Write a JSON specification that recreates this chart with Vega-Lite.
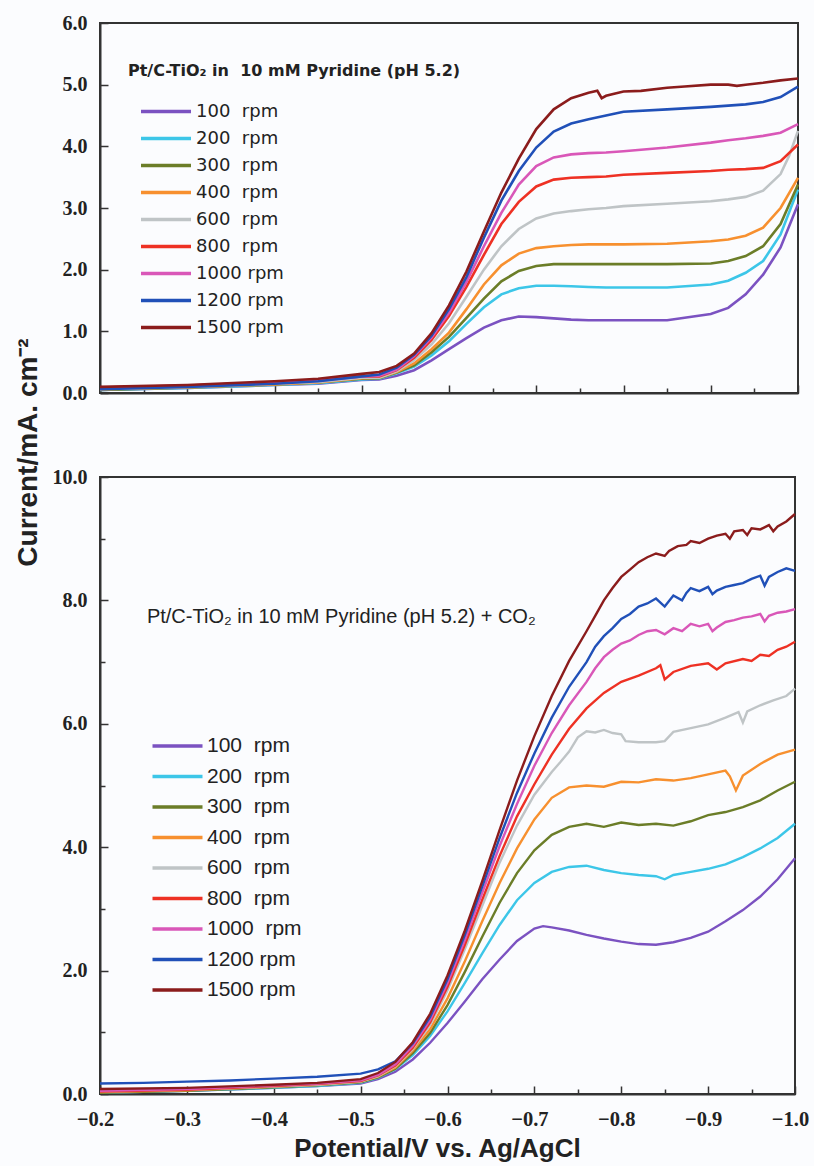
{
"$schema":"https://vega.github.io/schema/vega-lite/v6.json",
"background":"#fbfcfe",
"padding":{"left":12,"top":12,"right":4,"bottom":4},
"bounds":"flush",
"spacing":84,
"config":{
 "view":{"stroke":"#333333","strokeWidth":2},
 "axis":{"domainColor":"#333333","domainWidth":2,"tickColor":"#333333","tickWidth":1.5,"grid":false,
  "labelFont":"Liberation Serif","labelFontWeight":"bold","labelFontSize":20,"labelColor":"#222222",
  "labelFlush":false,"labelOverlap":false,"labelBound":false,
  "titleFont":"Liberation Sans","titleFontWeight":"bold","titleFontSize":26,"titleColor":"#222222"}
},
"resolve":{"scale":{"color":"independent"},"legend":{"color":"independent"}},
"datasets":{
"top":[
{"r":100,"v":-0.2,"i":0.05},{"r":100,"v":-0.3,"i":0.08},{"r":100,"v":-0.4,"i":0.13},{"r":100,"v":-0.45,"i":0.15},{"r":100,"v":-0.5,"i":0.21},{"r":100,"v":-0.52,"i":0.22},{"r":100,"v":-0.54,"i":0.28},{"r":100,"v":-0.56,"i":0.37},{"r":100,"v":-0.58,"i":0.53},{"r":100,"v":-0.6,"i":0.71},{"r":100,"v":-0.62,"i":0.89},{"r":100,"v":-0.64,"i":1.06},{"r":100,"v":-0.66,"i":1.18},{"r":100,"v":-0.68,"i":1.24},{"r":100,"v":-0.7,"i":1.23},{"r":100,"v":-0.72,"i":1.21},{"r":100,"v":-0.74,"i":1.19},{"r":100,"v":-0.76,"i":1.18},{"r":100,"v":-0.78,"i":1.18},{"r":100,"v":-0.8,"i":1.18},{"r":100,"v":-0.85,"i":1.18},{"r":100,"v":-0.9,"i":1.28},{"r":100,"v":-0.92,"i":1.38},{"r":100,"v":-0.94,"i":1.6},{"r":100,"v":-0.96,"i":1.92},{"r":100,"v":-0.98,"i":2.36},{"r":100,"v":-1.0,"i":3.06},
{"r":200,"v":-0.2,"i":0.05},{"r":200,"v":-0.3,"i":0.08},{"r":200,"v":-0.4,"i":0.13},{"r":200,"v":-0.45,"i":0.16},{"r":200,"v":-0.5,"i":0.22},{"r":200,"v":-0.52,"i":0.23},{"r":200,"v":-0.54,"i":0.32},{"r":200,"v":-0.56,"i":0.43},{"r":200,"v":-0.58,"i":0.61},{"r":200,"v":-0.6,"i":0.84},{"r":200,"v":-0.62,"i":1.12},{"r":200,"v":-0.64,"i":1.39},{"r":200,"v":-0.66,"i":1.6},{"r":200,"v":-0.68,"i":1.7},{"r":200,"v":-0.7,"i":1.74},{"r":200,"v":-0.72,"i":1.74},{"r":200,"v":-0.74,"i":1.73},{"r":200,"v":-0.76,"i":1.72},{"r":200,"v":-0.78,"i":1.71},{"r":200,"v":-0.8,"i":1.71},{"r":200,"v":-0.85,"i":1.71},{"r":200,"v":-0.9,"i":1.76},{"r":200,"v":-0.92,"i":1.82},{"r":200,"v":-0.94,"i":1.95},{"r":200,"v":-0.96,"i":2.14},{"r":200,"v":-0.98,"i":2.57},{"r":200,"v":-1.0,"i":3.3},
{"r":300,"v":-0.2,"i":0.05},{"r":300,"v":-0.3,"i":0.09},{"r":300,"v":-0.4,"i":0.14},{"r":300,"v":-0.45,"i":0.17},{"r":300,"v":-0.5,"i":0.23},{"r":300,"v":-0.52,"i":0.24},{"r":300,"v":-0.54,"i":0.33},{"r":300,"v":-0.56,"i":0.45},{"r":300,"v":-0.58,"i":0.66},{"r":300,"v":-0.6,"i":0.91},{"r":300,"v":-0.62,"i":1.22},{"r":300,"v":-0.64,"i":1.53},{"r":300,"v":-0.66,"i":1.81},{"r":300,"v":-0.68,"i":1.98},{"r":300,"v":-0.7,"i":2.06},{"r":300,"v":-0.72,"i":2.09},{"r":300,"v":-0.74,"i":2.09},{"r":300,"v":-0.76,"i":2.09},{"r":300,"v":-0.78,"i":2.09},{"r":300,"v":-0.8,"i":2.09},{"r":300,"v":-0.85,"i":2.09},{"r":300,"v":-0.9,"i":2.1},{"r":300,"v":-0.92,"i":2.14},{"r":300,"v":-0.94,"i":2.22},{"r":300,"v":-0.96,"i":2.38},{"r":300,"v":-0.98,"i":2.74},{"r":300,"v":-1.0,"i":3.38},
{"r":400,"v":-0.2,"i":0.06},{"r":400,"v":-0.3,"i":0.09},{"r":400,"v":-0.4,"i":0.14},{"r":400,"v":-0.45,"i":0.17},{"r":400,"v":-0.5,"i":0.24},{"r":400,"v":-0.52,"i":0.25},{"r":400,"v":-0.54,"i":0.34},{"r":400,"v":-0.56,"i":0.48},{"r":400,"v":-0.58,"i":0.71},{"r":400,"v":-0.6,"i":0.98},{"r":400,"v":-0.62,"i":1.36},{"r":400,"v":-0.64,"i":1.76},{"r":400,"v":-0.66,"i":2.07},{"r":400,"v":-0.68,"i":2.26},{"r":400,"v":-0.7,"i":2.35},{"r":400,"v":-0.72,"i":2.38},{"r":400,"v":-0.74,"i":2.4},{"r":400,"v":-0.76,"i":2.41},{"r":400,"v":-0.78,"i":2.41},{"r":400,"v":-0.8,"i":2.41},{"r":400,"v":-0.85,"i":2.42},{"r":400,"v":-0.9,"i":2.46},{"r":400,"v":-0.92,"i":2.49},{"r":400,"v":-0.94,"i":2.55},{"r":400,"v":-0.96,"i":2.68},{"r":400,"v":-0.98,"i":3.0},{"r":400,"v":-1.0,"i":3.49},
{"r":600,"v":-0.2,"i":0.06},{"r":600,"v":-0.3,"i":0.1},{"r":600,"v":-0.4,"i":0.15},{"r":600,"v":-0.45,"i":0.18},{"r":600,"v":-0.5,"i":0.25},{"r":600,"v":-0.52,"i":0.25},{"r":600,"v":-0.54,"i":0.35},{"r":600,"v":-0.56,"i":0.53},{"r":600,"v":-0.58,"i":0.79},{"r":600,"v":-0.6,"i":1.13},{"r":600,"v":-0.62,"i":1.56},{"r":600,"v":-0.64,"i":2.0},{"r":600,"v":-0.66,"i":2.38},{"r":600,"v":-0.68,"i":2.66},{"r":600,"v":-0.7,"i":2.83},{"r":600,"v":-0.72,"i":2.91},{"r":600,"v":-0.74,"i":2.95},{"r":600,"v":-0.76,"i":2.98},{"r":600,"v":-0.78,"i":3.0},{"r":600,"v":-0.8,"i":3.03},{"r":600,"v":-0.85,"i":3.07},{"r":600,"v":-0.9,"i":3.11},{"r":600,"v":-0.92,"i":3.14},{"r":600,"v":-0.94,"i":3.18},{"r":600,"v":-0.96,"i":3.28},{"r":600,"v":-0.98,"i":3.55},{"r":600,"v":-0.99,"i":3.85},{"r":600,"v":-1.0,"i":4.25},
{"r":800,"v":-0.2,"i":0.09},{"r":800,"v":-0.3,"i":0.12},{"r":800,"v":-0.4,"i":0.17},{"r":800,"v":-0.45,"i":0.21},{"r":800,"v":-0.5,"i":0.27},{"r":800,"v":-0.52,"i":0.27},{"r":800,"v":-0.54,"i":0.37},{"r":800,"v":-0.56,"i":0.57},{"r":800,"v":-0.58,"i":0.86},{"r":800,"v":-0.6,"i":1.25},{"r":800,"v":-0.62,"i":1.72},{"r":800,"v":-0.64,"i":2.24},{"r":800,"v":-0.66,"i":2.74},{"r":800,"v":-0.68,"i":3.1},{"r":800,"v":-0.7,"i":3.35},{"r":800,"v":-0.72,"i":3.46},{"r":800,"v":-0.74,"i":3.49},{"r":800,"v":-0.76,"i":3.5},{"r":800,"v":-0.78,"i":3.51},{"r":800,"v":-0.8,"i":3.54},{"r":800,"v":-0.85,"i":3.57},{"r":800,"v":-0.9,"i":3.6},{"r":800,"v":-0.92,"i":3.62},{"r":800,"v":-0.94,"i":3.63},{"r":800,"v":-0.96,"i":3.65},{"r":800,"v":-0.98,"i":3.76},{"r":800,"v":-1.0,"i":4.03},
{"r":1000,"v":-0.2,"i":0.08},{"r":1000,"v":-0.3,"i":0.11},{"r":1000,"v":-0.4,"i":0.16},{"r":1000,"v":-0.45,"i":0.2},{"r":1000,"v":-0.5,"i":0.27},{"r":1000,"v":-0.52,"i":0.28},{"r":1000,"v":-0.54,"i":0.38},{"r":1000,"v":-0.56,"i":0.6},{"r":1000,"v":-0.58,"i":0.9},{"r":1000,"v":-0.6,"i":1.3},{"r":1000,"v":-0.62,"i":1.8},{"r":1000,"v":-0.64,"i":2.38},{"r":1000,"v":-0.66,"i":2.92},{"r":1000,"v":-0.68,"i":3.38},{"r":1000,"v":-0.7,"i":3.68},{"r":1000,"v":-0.72,"i":3.82},{"r":1000,"v":-0.74,"i":3.87},{"r":1000,"v":-0.76,"i":3.89},{"r":1000,"v":-0.78,"i":3.9},{"r":1000,"v":-0.8,"i":3.92},{"r":1000,"v":-0.85,"i":3.98},{"r":1000,"v":-0.9,"i":4.06},{"r":1000,"v":-0.92,"i":4.1},{"r":1000,"v":-0.94,"i":4.13},{"r":1000,"v":-0.96,"i":4.17},{"r":1000,"v":-0.98,"i":4.22},{"r":1000,"v":-1.0,"i":4.36},
{"r":1200,"v":-0.2,"i":0.06},{"r":1200,"v":-0.3,"i":0.1},{"r":1200,"v":-0.4,"i":0.15},{"r":1200,"v":-0.45,"i":0.19},{"r":1200,"v":-0.5,"i":0.27},{"r":1200,"v":-0.52,"i":0.3},{"r":1200,"v":-0.54,"i":0.41},{"r":1200,"v":-0.56,"i":0.62},{"r":1200,"v":-0.58,"i":0.93},{"r":1200,"v":-0.6,"i":1.36},{"r":1200,"v":-0.62,"i":1.88},{"r":1200,"v":-0.64,"i":2.52},{"r":1200,"v":-0.66,"i":3.12},{"r":1200,"v":-0.68,"i":3.6},{"r":1200,"v":-0.7,"i":3.98},{"r":1200,"v":-0.72,"i":4.24},{"r":1200,"v":-0.74,"i":4.37},{"r":1200,"v":-0.76,"i":4.44},{"r":1200,"v":-0.78,"i":4.5},{"r":1200,"v":-0.8,"i":4.56},{"r":1200,"v":-0.85,"i":4.6},{"r":1200,"v":-0.9,"i":4.64},{"r":1200,"v":-0.92,"i":4.66},{"r":1200,"v":-0.94,"i":4.68},{"r":1200,"v":-0.96,"i":4.72},{"r":1200,"v":-0.98,"i":4.8},{"r":1200,"v":-1.0,"i":4.97},
{"r":1500,"v":-0.2,"i":0.1},{"r":1500,"v":-0.3,"i":0.13},{"r":1500,"v":-0.4,"i":0.19},{"r":1500,"v":-0.45,"i":0.23},{"r":1500,"v":-0.5,"i":0.31},{"r":1500,"v":-0.52,"i":0.34},{"r":1500,"v":-0.54,"i":0.44},{"r":1500,"v":-0.56,"i":0.64},{"r":1500,"v":-0.58,"i":0.97},{"r":1500,"v":-0.6,"i":1.42},{"r":1500,"v":-0.62,"i":1.97},{"r":1500,"v":-0.64,"i":2.62},{"r":1500,"v":-0.66,"i":3.25},{"r":1500,"v":-0.68,"i":3.8},{"r":1500,"v":-0.7,"i":4.28},{"r":1500,"v":-0.72,"i":4.6},{"r":1500,"v":-0.74,"i":4.78},{"r":1500,"v":-0.76,"i":4.87},{"r":1500,"v":-0.77,"i":4.9},{"r":1500,"v":-0.775,"i":4.78},{"r":1500,"v":-0.78,"i":4.82},{"r":1500,"v":-0.8,"i":4.89},{"r":1500,"v":-0.82,"i":4.9},{"r":1500,"v":-0.85,"i":4.95},{"r":1500,"v":-0.87,"i":4.97},{"r":1500,"v":-0.9,"i":5.0},{"r":1500,"v":-0.92,"i":5.0},{"r":1500,"v":-0.93,"i":4.98},{"r":1500,"v":-0.94,"i":5.0},{"r":1500,"v":-0.96,"i":5.03},{"r":1500,"v":-0.98,"i":5.07},{"r":1500,"v":-1.0,"i":5.1}
],
"bot":[
{"r":100,"v":-0.2,"i":0.02},{"r":100,"v":-0.3,"i":0.05},{"r":100,"v":-0.4,"i":0.1},{"r":100,"v":-0.45,"i":0.13},{"r":100,"v":-0.5,"i":0.17},{"r":100,"v":-0.52,"i":0.24},{"r":100,"v":-0.54,"i":0.36},{"r":100,"v":-0.56,"i":0.56},{"r":100,"v":-0.58,"i":0.83},{"r":100,"v":-0.6,"i":1.15},{"r":100,"v":-0.62,"i":1.5},{"r":100,"v":-0.64,"i":1.86},{"r":100,"v":-0.66,"i":2.18},{"r":100,"v":-0.68,"i":2.48},{"r":100,"v":-0.7,"i":2.68},{"r":100,"v":-0.71,"i":2.72},{"r":100,"v":-0.72,"i":2.7},{"r":100,"v":-0.74,"i":2.65},{"r":100,"v":-0.76,"i":2.58},{"r":100,"v":-0.78,"i":2.52},{"r":100,"v":-0.8,"i":2.47},{"r":100,"v":-0.82,"i":2.43},{"r":100,"v":-0.84,"i":2.42},{"r":100,"v":-0.86,"i":2.46},{"r":100,"v":-0.88,"i":2.53},{"r":100,"v":-0.9,"i":2.63},{"r":100,"v":-0.92,"i":2.8},{"r":100,"v":-0.94,"i":2.98},{"r":100,"v":-0.96,"i":3.2},{"r":100,"v":-0.98,"i":3.48},{"r":100,"v":-1.0,"i":3.82},
{"r":200,"v":-0.2,"i":0.02},{"r":200,"v":-0.3,"i":0.05},{"r":200,"v":-0.4,"i":0.1},{"r":200,"v":-0.45,"i":0.13},{"r":200,"v":-0.5,"i":0.18},{"r":200,"v":-0.52,"i":0.26},{"r":200,"v":-0.54,"i":0.4},{"r":200,"v":-0.56,"i":0.63},{"r":200,"v":-0.58,"i":0.94},{"r":200,"v":-0.6,"i":1.34},{"r":200,"v":-0.62,"i":1.8},{"r":200,"v":-0.64,"i":2.28},{"r":200,"v":-0.66,"i":2.74},{"r":200,"v":-0.68,"i":3.14},{"r":200,"v":-0.7,"i":3.42},{"r":200,"v":-0.72,"i":3.6},{"r":200,"v":-0.74,"i":3.68},{"r":200,"v":-0.76,"i":3.7},{"r":200,"v":-0.78,"i":3.63},{"r":200,"v":-0.8,"i":3.58},{"r":200,"v":-0.82,"i":3.55},{"r":200,"v":-0.84,"i":3.53},{"r":200,"v":-0.85,"i":3.48},{"r":200,"v":-0.86,"i":3.55},{"r":200,"v":-0.88,"i":3.6},{"r":200,"v":-0.9,"i":3.65},{"r":200,"v":-0.92,"i":3.72},{"r":200,"v":-0.94,"i":3.84},{"r":200,"v":-0.96,"i":3.98},{"r":200,"v":-0.98,"i":4.15},{"r":200,"v":-1.0,"i":4.38},
{"r":300,"v":-0.2,"i":0.02},{"r":300,"v":-0.3,"i":0.05},{"r":300,"v":-0.4,"i":0.11},{"r":300,"v":-0.45,"i":0.14},{"r":300,"v":-0.5,"i":0.19},{"r":300,"v":-0.52,"i":0.27},{"r":300,"v":-0.54,"i":0.41},{"r":300,"v":-0.56,"i":0.66},{"r":300,"v":-0.58,"i":0.99},{"r":300,"v":-0.6,"i":1.44},{"r":300,"v":-0.62,"i":1.98},{"r":300,"v":-0.64,"i":2.55},{"r":300,"v":-0.66,"i":3.1},{"r":300,"v":-0.68,"i":3.58},{"r":300,"v":-0.7,"i":3.95},{"r":300,"v":-0.72,"i":4.2},{"r":300,"v":-0.74,"i":4.33},{"r":300,"v":-0.76,"i":4.38},{"r":300,"v":-0.78,"i":4.33},{"r":300,"v":-0.8,"i":4.4},{"r":300,"v":-0.82,"i":4.36},{"r":300,"v":-0.84,"i":4.38},{"r":300,"v":-0.86,"i":4.35},{"r":300,"v":-0.88,"i":4.42},{"r":300,"v":-0.9,"i":4.52},{"r":300,"v":-0.92,"i":4.57},{"r":300,"v":-0.94,"i":4.65},{"r":300,"v":-0.96,"i":4.76},{"r":300,"v":-0.98,"i":4.92},{"r":300,"v":-1.0,"i":5.06},
{"r":400,"v":-0.2,"i":0.03},{"r":400,"v":-0.3,"i":0.06},{"r":400,"v":-0.4,"i":0.12},{"r":400,"v":-0.45,"i":0.15},{"r":400,"v":-0.5,"i":0.2},{"r":400,"v":-0.52,"i":0.28},{"r":400,"v":-0.54,"i":0.43},{"r":400,"v":-0.56,"i":0.7},{"r":400,"v":-0.58,"i":1.05},{"r":400,"v":-0.6,"i":1.55},{"r":400,"v":-0.62,"i":2.15},{"r":400,"v":-0.64,"i":2.8},{"r":400,"v":-0.66,"i":3.42},{"r":400,"v":-0.68,"i":3.98},{"r":400,"v":-0.7,"i":4.45},{"r":400,"v":-0.72,"i":4.8},{"r":400,"v":-0.74,"i":4.97},{"r":400,"v":-0.76,"i":5.0},{"r":400,"v":-0.78,"i":4.98},{"r":400,"v":-0.8,"i":5.06},{"r":400,"v":-0.82,"i":5.05},{"r":400,"v":-0.84,"i":5.1},{"r":400,"v":-0.86,"i":5.08},{"r":400,"v":-0.88,"i":5.12},{"r":400,"v":-0.9,"i":5.18},{"r":400,"v":-0.92,"i":5.24},{"r":400,"v":-0.925,"i":5.15},{"r":400,"v":-0.932,"i":4.92},{"r":400,"v":-0.94,"i":5.16},{"r":400,"v":-0.96,"i":5.35},{"r":400,"v":-0.98,"i":5.5},{"r":400,"v":-1.0,"i":5.58},
{"r":600,"v":-0.2,"i":0.04},{"r":600,"v":-0.3,"i":0.07},{"r":600,"v":-0.4,"i":0.12},{"r":600,"v":-0.45,"i":0.15},{"r":600,"v":-0.5,"i":0.2},{"r":600,"v":-0.52,"i":0.29},{"r":600,"v":-0.54,"i":0.45},{"r":600,"v":-0.56,"i":0.73},{"r":600,"v":-0.58,"i":1.12},{"r":600,"v":-0.6,"i":1.68},{"r":600,"v":-0.62,"i":2.35},{"r":600,"v":-0.64,"i":3.05},{"r":600,"v":-0.66,"i":3.75},{"r":600,"v":-0.68,"i":4.35},{"r":600,"v":-0.7,"i":4.85},{"r":600,"v":-0.72,"i":5.22},{"r":600,"v":-0.73,"i":5.38},{"r":600,"v":-0.74,"i":5.55},{"r":600,"v":-0.75,"i":5.78},{"r":600,"v":-0.76,"i":5.88},{"r":600,"v":-0.77,"i":5.86},{"r":600,"v":-0.78,"i":5.9},{"r":600,"v":-0.79,"i":5.85},{"r":600,"v":-0.8,"i":5.83},{"r":600,"v":-0.805,"i":5.72},{"r":600,"v":-0.82,"i":5.7},{"r":600,"v":-0.84,"i":5.7},{"r":600,"v":-0.85,"i":5.72},{"r":600,"v":-0.86,"i":5.87},{"r":600,"v":-0.88,"i":5.93},{"r":600,"v":-0.9,"i":5.99},{"r":600,"v":-0.92,"i":6.1},{"r":600,"v":-0.935,"i":6.19},{"r":600,"v":-0.94,"i":6.02},{"r":600,"v":-0.945,"i":6.2},{"r":600,"v":-0.96,"i":6.3},{"r":600,"v":-0.975,"i":6.38},{"r":600,"v":-0.99,"i":6.45},{"r":600,"v":-1.0,"i":6.57},
{"r":800,"v":-0.2,"i":0.04},{"r":800,"v":-0.3,"i":0.07},{"r":800,"v":-0.4,"i":0.13},{"r":800,"v":-0.45,"i":0.16},{"r":800,"v":-0.5,"i":0.21},{"r":800,"v":-0.52,"i":0.3},{"r":800,"v":-0.54,"i":0.46},{"r":800,"v":-0.56,"i":0.75},{"r":800,"v":-0.58,"i":1.16},{"r":800,"v":-0.6,"i":1.74},{"r":800,"v":-0.62,"i":2.42},{"r":800,"v":-0.64,"i":3.15},{"r":800,"v":-0.66,"i":3.86},{"r":800,"v":-0.68,"i":4.5},{"r":800,"v":-0.7,"i":5.02},{"r":800,"v":-0.72,"i":5.5},{"r":800,"v":-0.74,"i":5.92},{"r":800,"v":-0.76,"i":6.25},{"r":800,"v":-0.78,"i":6.5},{"r":800,"v":-0.8,"i":6.68},{"r":800,"v":-0.82,"i":6.78},{"r":800,"v":-0.84,"i":6.9},{"r":800,"v":-0.845,"i":6.95},{"r":800,"v":-0.85,"i":6.72},{"r":800,"v":-0.86,"i":6.84},{"r":800,"v":-0.88,"i":6.94},{"r":800,"v":-0.9,"i":6.98},{"r":800,"v":-0.91,"i":6.88},{"r":800,"v":-0.92,"i":6.98},{"r":800,"v":-0.94,"i":7.05},{"r":800,"v":-0.95,"i":7.02},{"r":800,"v":-0.96,"i":7.12},{"r":800,"v":-0.97,"i":7.1},{"r":800,"v":-0.98,"i":7.2},{"r":800,"v":-0.99,"i":7.25},{"r":800,"v":-1.0,"i":7.33},
{"r":1000,"v":-0.2,"i":0.05},{"r":1000,"v":-0.3,"i":0.08},{"r":1000,"v":-0.4,"i":0.14},{"r":1000,"v":-0.45,"i":0.17},{"r":1000,"v":-0.5,"i":0.22},{"r":1000,"v":-0.52,"i":0.31},{"r":1000,"v":-0.54,"i":0.48},{"r":1000,"v":-0.56,"i":0.78},{"r":1000,"v":-0.58,"i":1.2},{"r":1000,"v":-0.6,"i":1.8},{"r":1000,"v":-0.62,"i":2.5},{"r":1000,"v":-0.64,"i":3.26},{"r":1000,"v":-0.66,"i":4.02},{"r":1000,"v":-0.68,"i":4.7},{"r":1000,"v":-0.7,"i":5.32},{"r":1000,"v":-0.72,"i":5.85},{"r":1000,"v":-0.74,"i":6.3},{"r":1000,"v":-0.76,"i":6.68},{"r":1000,"v":-0.77,"i":6.9},{"r":1000,"v":-0.78,"i":7.08},{"r":1000,"v":-0.79,"i":7.2},{"r":1000,"v":-0.8,"i":7.3},{"r":1000,"v":-0.81,"i":7.35},{"r":1000,"v":-0.82,"i":7.44},{"r":1000,"v":-0.83,"i":7.5},{"r":1000,"v":-0.84,"i":7.52},{"r":1000,"v":-0.85,"i":7.45},{"r":1000,"v":-0.86,"i":7.55},{"r":1000,"v":-0.87,"i":7.5},{"r":1000,"v":-0.88,"i":7.62},{"r":1000,"v":-0.89,"i":7.58},{"r":1000,"v":-0.9,"i":7.62},{"r":1000,"v":-0.905,"i":7.5},{"r":1000,"v":-0.91,"i":7.56},{"r":1000,"v":-0.92,"i":7.65},{"r":1000,"v":-0.93,"i":7.68},{"r":1000,"v":-0.94,"i":7.72},{"r":1000,"v":-0.95,"i":7.74},{"r":1000,"v":-0.96,"i":7.78},{"r":1000,"v":-0.965,"i":7.66},{"r":1000,"v":-0.97,"i":7.75},{"r":1000,"v":-0.98,"i":7.8},{"r":1000,"v":-0.99,"i":7.82},{"r":1000,"v":-1.0,"i":7.86},
{"r":1200,"v":-0.2,"i":0.17},{"r":1200,"v":-0.25,"i":0.18},{"r":1200,"v":-0.3,"i":0.2},{"r":1200,"v":-0.35,"i":0.22},{"r":1200,"v":-0.4,"i":0.25},{"r":1200,"v":-0.45,"i":0.28},{"r":1200,"v":-0.5,"i":0.33},{"r":1200,"v":-0.52,"i":0.4},{"r":1200,"v":-0.54,"i":0.53},{"r":1200,"v":-0.56,"i":0.82},{"r":1200,"v":-0.58,"i":1.25},{"r":1200,"v":-0.6,"i":1.86},{"r":1200,"v":-0.62,"i":2.58},{"r":1200,"v":-0.64,"i":3.36},{"r":1200,"v":-0.66,"i":4.15},{"r":1200,"v":-0.68,"i":4.88},{"r":1200,"v":-0.7,"i":5.52},{"r":1200,"v":-0.72,"i":6.1},{"r":1200,"v":-0.74,"i":6.6},{"r":1200,"v":-0.76,"i":7.0},{"r":1200,"v":-0.77,"i":7.25},{"r":1200,"v":-0.78,"i":7.42},{"r":1200,"v":-0.79,"i":7.55},{"r":1200,"v":-0.8,"i":7.7},{"r":1200,"v":-0.81,"i":7.78},{"r":1200,"v":-0.82,"i":7.9},{"r":1200,"v":-0.83,"i":7.95},{"r":1200,"v":-0.84,"i":8.03},{"r":1200,"v":-0.85,"i":7.9},{"r":1200,"v":-0.86,"i":8.08},{"r":1200,"v":-0.87,"i":8.0},{"r":1200,"v":-0.875,"i":8.12},{"r":1200,"v":-0.88,"i":8.2},{"r":1200,"v":-0.89,"i":8.15},{"r":1200,"v":-0.9,"i":8.22},{"r":1200,"v":-0.905,"i":8.1},{"r":1200,"v":-0.91,"i":8.16},{"r":1200,"v":-0.92,"i":8.22},{"r":1200,"v":-0.93,"i":8.25},{"r":1200,"v":-0.94,"i":8.28},{"r":1200,"v":-0.95,"i":8.35},{"r":1200,"v":-0.96,"i":8.4},{"r":1200,"v":-0.965,"i":8.24},{"r":1200,"v":-0.97,"i":8.38},{"r":1200,"v":-0.98,"i":8.46},{"r":1200,"v":-0.99,"i":8.52},{"r":1200,"v":-1.0,"i":8.48},
{"r":1500,"v":-0.2,"i":0.08},{"r":1500,"v":-0.3,"i":0.1},{"r":1500,"v":-0.4,"i":0.15},{"r":1500,"v":-0.45,"i":0.18},{"r":1500,"v":-0.5,"i":0.24},{"r":1500,"v":-0.52,"i":0.34},{"r":1500,"v":-0.54,"i":0.52},{"r":1500,"v":-0.56,"i":0.84},{"r":1500,"v":-0.58,"i":1.3},{"r":1500,"v":-0.6,"i":1.92},{"r":1500,"v":-0.62,"i":2.65},{"r":1500,"v":-0.64,"i":3.45},{"r":1500,"v":-0.66,"i":4.28},{"r":1500,"v":-0.68,"i":5.08},{"r":1500,"v":-0.7,"i":5.8},{"r":1500,"v":-0.72,"i":6.45},{"r":1500,"v":-0.74,"i":7.02},{"r":1500,"v":-0.76,"i":7.5},{"r":1500,"v":-0.77,"i":7.75},{"r":1500,"v":-0.78,"i":8.0},{"r":1500,"v":-0.79,"i":8.2},{"r":1500,"v":-0.8,"i":8.38},{"r":1500,"v":-0.81,"i":8.5},{"r":1500,"v":-0.82,"i":8.62},{"r":1500,"v":-0.83,"i":8.7},{"r":1500,"v":-0.84,"i":8.76},{"r":1500,"v":-0.85,"i":8.72},{"r":1500,"v":-0.855,"i":8.8},{"r":1500,"v":-0.865,"i":8.88},{"r":1500,"v":-0.875,"i":8.9},{"r":1500,"v":-0.88,"i":8.96},{"r":1500,"v":-0.89,"i":8.93},{"r":1500,"v":-0.9,"i":9.0},{"r":1500,"v":-0.91,"i":9.05},{"r":1500,"v":-0.92,"i":9.08},{"r":1500,"v":-0.925,"i":9.0},{"r":1500,"v":-0.93,"i":9.12},{"r":1500,"v":-0.94,"i":9.14},{"r":1500,"v":-0.945,"i":9.06},{"r":1500,"v":-0.95,"i":9.17},{"r":1500,"v":-0.96,"i":9.15},{"r":1500,"v":-0.97,"i":9.22},{"r":1500,"v":-0.975,"i":9.12},{"r":1500,"v":-0.98,"i":9.2},{"r":1500,"v":-0.99,"i":9.28},{"r":1500,"v":-1.0,"i":9.4}
]},
"vconcat":[
{"width":698,"height":370,
 "layer":[
 {"data":{"name":"top"},
  "mark":{"type":"line","strokeWidth":2.6},
  "encoding":{
   "x":{"field":"v","type":"quantitative","scale":{"domain":[-1.0,-0.2],"reverse":true,"nice":false},
     "axis":{"title":null,"labels":false,"values":[-0.2,-0.25,-0.3,-0.35,-0.4,-0.45,-0.5,-0.55,-0.6,-0.65,-0.7,-0.75,-0.8,-0.85,-0.9,-0.95,-1.0],
       "tickSize":{"condition":{"test":"abs(round(datum.value*100)) % 10 != 0","value":-5},"value":-8}}},
   "y":{"field":"i","type":"quantitative","scale":{"domain":[0,6],"nice":false,"zero":true},
     "axis":{"title":null,"values":[0,0.5,1,1.5,2,2.5,3,3.5,4,4.5,5,5.5,6],
       "labelExpr":"datum.value % 1 == 0 ? format(datum.value, '.1f') : ''",
       "labelPadding":21,"labelFontSize":20,"labelFont":"Liberation Serif","labelFontWeight":"bold",
       "tickSize":{"condition":{"test":"datum.value % 1 != 0","value":-5},"value":-8}}},
   "color":{"field":"r","type":"ordinal",
     "scale":{"domain":[100,200,300,400,600,800,1000,1200,1500],"range":["#7b52c1","#3cc6e8","#6b7d28","#f7902f","#bfc4c6","#ee3124","#d957b8","#2050b8","#8b1c1c"]},
     "legend":{"orient":"none","legendX":57,"legendY":79.5,"title":null,"padding":0,
       "symbolType":"M-12.5,0H12.5","symbolSize":16,"symbolStrokeWidth":3.5,
       "labelFont":"DejaVu Sans","labelFontSize":18,"labelColor":"#222222","labelOffset":21,"rowPadding":9,
       "labelExpr":"datum.value >= 1000 ? datum.value + ' rpm' : datum.value + '\u00a0\u00a0rpm'"}}
  }},
 {"data":{"values":[{"v":-0.232,"i":5.22,"t":"Pt/C-TiO₂ in\u00a0\u00a010 mM Pyridine (pH 5.2)"}]},
  "mark":{"type":"text","align":"left","baseline":"middle","font":"DejaVu Sans","fontSize":16,"fontWeight":"bold","color":"#222222"},
  "encoding":{"x":{"field":"v","type":"quantitative"},"y":{"field":"i","type":"quantitative"},"text":{"field":"t"}}}
 ]},
{"width":695,"height":617,
 "layer":[
 {"data":{"name":"bot"},
  "mark":{"type":"line","strokeWidth":2.4},
  "encoding":{
   "x":{"field":"v","type":"quantitative","scale":{"domain":[-1.0,-0.2],"reverse":true,"nice":false},
     "axis":{"title":"Potential/V vs. Ag/AgCl","titlePadding":3,"titleFontSize":26,"titleX":337,"titleAlign":"center",
       "values":[-0.2,-0.25,-0.3,-0.35,-0.4,-0.45,-0.5,-0.55,-0.6,-0.65,-0.7,-0.75,-0.8,-0.85,-0.9,-0.95,-1.0],
       "labelExpr":"abs(round(datum.value*100)) % 10 == 0 ? format(datum.value, '.1f') : ''",
       "labelPadding":23,"labelFontSize":20.5,"labelOffset":-5,"labelFont":"Liberation Serif","labelFontWeight":"bold",
       "tickSize":{"condition":{"test":"abs(round(datum.value*100)) % 10 != 0","value":-5},"value":-8}}},
   "y":{"field":"i","type":"quantitative","scale":{"domain":[0,10],"nice":false,"zero":true},
     "axis":{"title":"Current/mA. cm⁻²","titleFontSize":28,"titleX":-72,"titleY":-25,"titleAngle":-90,"titleAlign":"center","titleBaseline":"middle",
       "values":[0,1,2,3,4,5,6,7,8,9,10],
       "labelExpr":"datum.value % 2 == 0 ? format(datum.value, '.1f') : ''",
       "labelPadding":21,"labelFontSize":20,"labelFont":"Liberation Serif","labelFontWeight":"bold",
       "tickSize":{"condition":{"test":"datum.value % 2 != 0","value":-5},"value":-8}}},
   "color":{"field":"r","type":"ordinal",
     "scale":{"domain":[100,200,300,400,600,800,1000,1200,1500],"range":["#7b52c1","#3cc6e8","#6b7d28","#f7902f","#bfc4c6","#ee3124","#d957b8","#2050b8","#8b1c1c"]},
     "legend":{"orient":"none","legendX":67,"legendY":258.5,"title":null,"padding":0,
       "symbolType":"M-12.5,0H12.5","symbolSize":16,"symbolStrokeWidth":3.5,
       "labelFont":"Liberation Sans","labelFontSize":21,"labelColor":"#222222","labelOffset":19,"rowPadding":8.5,
       "labelExpr":"datum.value == 1000 ? datum.value + '\u00a0\u00a0rpm' : datum.value >= 1000 ? datum.value + ' rpm' : datum.value + '\u00a0\u00a0rpm'"}}
  }},
 {"data":{"values":[{"v":-0.254,"i":7.73,"t":"Pt/C-TiO₂ in 10 mM Pyridine (pH 5.2) + CO₂"}]},
  "mark":{"type":"text","align":"left","baseline":"middle","font":"Liberation Sans","fontSize":20,"color":"#222222"},
  "encoding":{"x":{"field":"v","type":"quantitative"},"y":{"field":"i","type":"quantitative"},"text":{"field":"t"}}}
 ]}
]
}
